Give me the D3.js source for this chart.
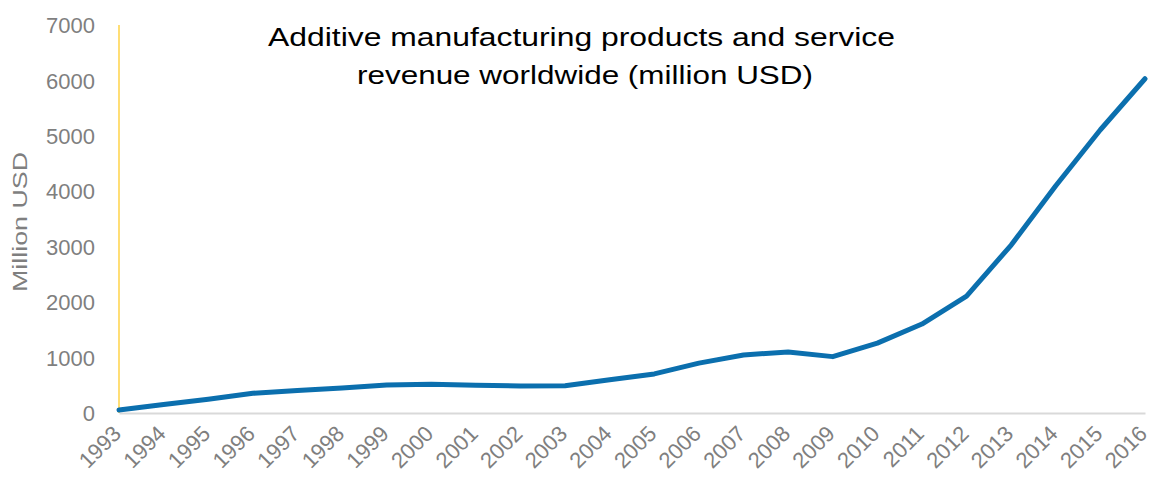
<!DOCTYPE html>
<html>
<head>
    <meta charset="UTF-8">
    <title>Additive manufacturing revenue</title>
    <script src="https://d3js.org/d3.v7.min.js"></script>
    <style>
        body { margin: 0; background: #ffffff; }
        text { font-family: "Liberation Sans", Arial, sans-serif; }
    </style>
</head>
<body>
<svg width="1152" height="479" id="mainsvg"></svg>
<script>
    // data (million USD)
    const years = [1993, 1994, 1995, 1996, 1997, 1998, 1999, 2000, 2001, 2002, 2003, 2004,
                   2005, 2006, 2007, 2008, 2009, 2010, 2011, 2012, 2013, 2014, 2015, 2016];
    const revenue = [55, 155, 250, 355, 405, 450, 505, 518, 500, 487, 493, 600,
                     705, 900, 1047, 1100, 1017, 1260, 1605, 2110, 3030, 4100, 5110, 6030];
    const yTicks = [0, 1000, 2000, 3000, 4000, 5000, 6000, 7000];
    const titleLines = ['Additive manufacturing products and service', 'revenue worldwide (million USD)'];
    const yAxisLabel = 'Million USD';

    const svg = d3.select('#mainsvg');
    const margin = {top: 25, right: 7, bottom: 66, left: 119};
    const width = +svg.attr('width');
    const height = +svg.attr('height');
    const innerWidth = width - margin.left - margin.right;
    const innerHeight = height - margin.top - margin.bottom;

    const data = years.map((y, i) => ({year: y, value: revenue[i]}));

    const xScale = d3.scalePoint()
        .domain(years)
        .range([0, innerWidth]);
    const yScale = d3.scaleLinear()
        .domain([0, 7000])
        .range([innerHeight, 0]);

    const g = svg.append('g')
        .attr('transform', `translate(${margin.left}, ${margin.top})`);

    // y axis: labels only
    const yAxis = d3.axisLeft(yScale)
        .tickValues(yTicks)
        .tickSize(0)
        .tickPadding(24)
        .tickFormat(d3.format('d'));
    const yAxisGroup = g.append('g').call(yAxis);
    yAxisGroup.select('.domain').remove();
    yAxisGroup.selectAll('text')
        .attr('fill', '#7f7f7f')
        .style('font-size', '22px')
        .attr('dy', '0.35em');

    // x axis: gray baseline and rotated year labels
    const xAxis = d3.axisBottom(xScale)
        .tickSize(0)
        .tickPadding(0);
    const xAxisGroup = g.append('g')
        .attr('transform', `translate(0, ${innerHeight})`)
        .call(xAxis);
    xAxisGroup.select('.domain')
        .attr('stroke', '#d9d9d9')
        .attr('stroke-width', 2);
    xAxisGroup.selectAll('text')
        .attr('fill', '#7f7f7f')
        .style('font-size', '22px')
        .attr('text-anchor', 'end')
        .attr('dy', null)
        .attr('y', 0)
        .attr('transform', 'translate(3, 22) rotate(-45)');

    // yellow vertical axis line
    g.append('line')
        .attr('x1', 0).attr('x2', 0)
        .attr('y1', yScale(7000)).attr('y2', innerHeight)
        .attr('stroke', '#ffd347')
        .attr('stroke-width', 1.5);

    // y axis title
    svg.append('text')
        .attr('transform', `translate(27, 222) rotate(-90)`)
        .attr('text-anchor', 'middle')
        .attr('fill', '#7f7f7f')
        .style('font-size', '20px')
        .attr('textLength', 140)
        .attr('lengthAdjust', 'spacingAndGlyphs')
        .text(yAxisLabel);

    // line
    const line = d3.line()
        .x(d => xScale(d.year))
        .y(d => yScale(d.value));
    g.append('path')
        .datum(data)
        .attr('fill', 'none')
        .attr('stroke', '#0b6fae')
        .attr('stroke-width', 5)
        .attr('stroke-linejoin', 'round')
        .attr('stroke-linecap', 'round')
        .attr('d', line);

    // chart title (two lines, stretched like the original)
    const titleLayout = [{x: 268, y: 46, w: 627}, {x: 357, y: 84, w: 456}];
    svg.selectAll('.title')
        .data(titleLines)
        .enter().append('text')
        .attr('class', 'title')
        .attr('x', (d, i) => titleLayout[i].x)
        .attr('y', (d, i) => titleLayout[i].y)
        .attr('textLength', (d, i) => titleLayout[i].w)
        .attr('lengthAdjust', 'spacingAndGlyphs')
        .attr('fill', '#000000')
        .style('font-size', '26px')
        .text(d => d);
</script>
</body>
</html>
